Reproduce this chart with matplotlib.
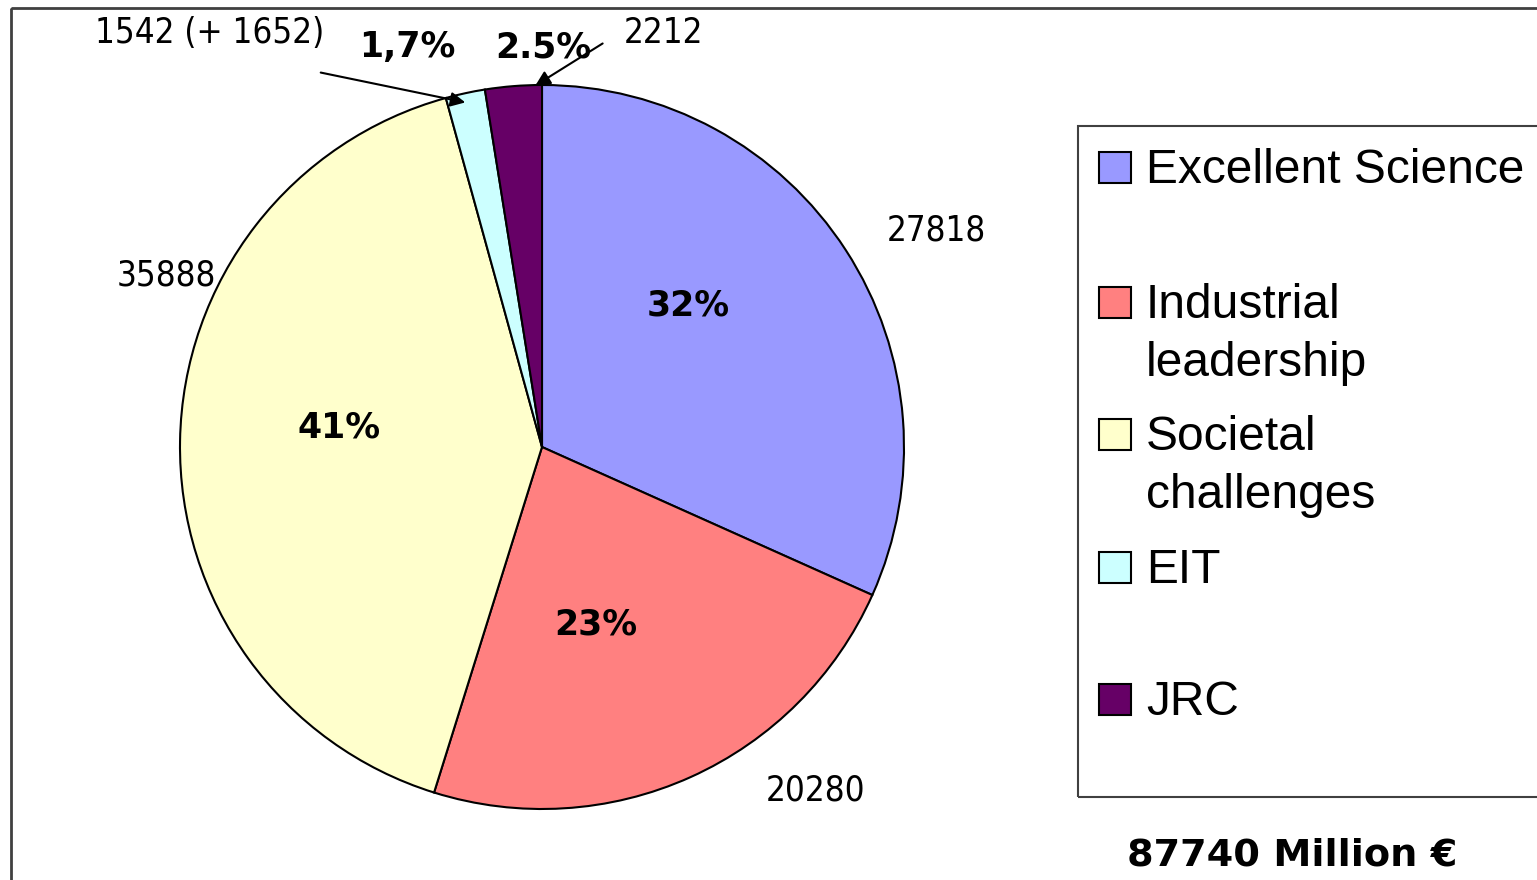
import matplotlib.pyplot as plt
from matplotlib.patches import Rectangle

# Horizon 2020 budget split (million EUR)
categories = ['Excellent Science', 'Industrial\nleadership', 'Societal\nchallenges', 'EIT', 'JRC']
values = [27818, 20280, 35888, 1542, 2212]
colors = ['#9999FF', '#FF8080', '#FFFFCC', '#CCFFFF', '#660066']
value_labels = ['27818', '20280', '35888', '1542 (+ 1652)', '2212']
pct_labels = ['32%', '23%', '41%', '1,7%', '2.5%']
total_label = '87740 Million €'

W, H = 1537, 880


def fy(y):
    # pixel row (from top) -> data y
    return H - y


fig = plt.figure(figsize=(W / 100, H / 100), dpi=100)
ax = fig.add_axes([0, 0, 1, 1])

# Pie
cx, cy, r = 542, 447, 362
ax.pie(values, colors=colors, startangle=90, counterclock=False,
       center=(cx, fy(cy)), radius=r,
       wedgeprops=dict(edgecolor='black', linewidth=1.5))
ax.set_xlim(0, W)
ax.set_ylim(0, H)
ax.set_aspect('equal')
ax.axis('off')

# outer frame (top and left edges visible)
ax.add_patch(Rectangle((11, fy(8)), W, -H, fill=False, edgecolor='#404040',
                       linewidth=2, clip_on=False))

# percentage labels
pct_pos = [(688, 315), (596, 634), (339, 437), (407, 57), (543, 57)]
for txt, (x, y) in zip(pct_labels, pct_pos):
    ax.text(x, fy(y), txt, ha='center', va='baseline', fontsize=25,
            fontweight='bold', family='DejaVu Sans')

# value labels
val_pos = [(936, 240), (816, 800), (166, 285), (210, 43), (664, 43)]
for txt, (x, y) in zip(value_labels, val_pos):
    ax.text(x, fy(y), txt, ha='center', va='baseline', fontsize=25,
            family='DejaVu Sans', fontstretch='condensed')

# leader arrows for the small slices
arrow = dict(arrowstyle='-|>', color='black', lw=1.5, mutation_scale=22)
ax.annotate('', xy=(468, fy(103)), xytext=(318, fy(72)), arrowprops=arrow)
ax.annotate('', xy=(533, fy(87)), xytext=(605, fy(42)), arrowprops=arrow)

# legend box
ax.add_patch(Rectangle((1078, fy(797)), 600, 797 - 126, fill=False,
                       edgecolor='#404040', linewidth=1.5, clip_on=False))
leg_base = [183, 318, 450, 583, 715]
for name, col, yb in zip(categories, colors, leg_base):
    ax.add_patch(Rectangle((1099, fy(yb)), 32, 31, facecolor=col,
                           edgecolor='black', linewidth=1.5))
    for i, line in enumerate(name.split('\n')):
        ax.text(1146, fy(yb + i * 58), line, ha='left', va='baseline',
                fontsize=34.5, family='Liberation Sans')

ax.text(1292, fy(865), total_label, ha='center', va='baseline', fontsize=27.5,
        fontweight='bold', family='DejaVu Sans')

fig.savefig('out.png', dpi=100)
